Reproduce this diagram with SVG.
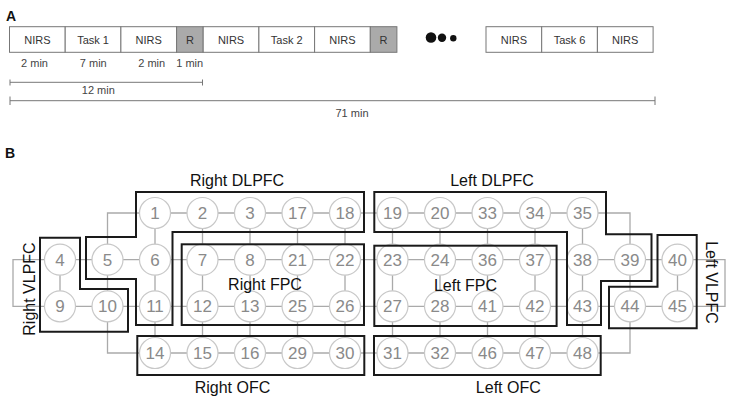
<svg xmlns="http://www.w3.org/2000/svg" width="733" height="403" viewBox="0 0 733 403">
<style>
text{font-family:"Liberation Sans",Arial,sans-serif}
.box{fill:#fff;stroke:#777;stroke-width:1}
.rbox{fill:#aaa;stroke:#777;stroke-width:1}
.bt{font-size:11px;fill:#333;text-anchor:middle}
.mt{font-size:11px;fill:#444;text-anchor:middle}
.bar{stroke:#777;stroke-width:1;fill:none}
.pl{font-size:14px;font-weight:bold;fill:#111}
.cn{stroke:#aaa;stroke-width:1.3;fill:none}
.nd circle{fill:#fff;stroke:#c8c8c8;stroke-width:1.2}
.nd text{font-size:17px;fill:#8a8a8a;text-anchor:middle}
.reg{fill:none;stroke:#1a1a1a;stroke-width:2}
.rl{font-size:16px;fill:#111;text-anchor:middle}
</style>
<rect width="733" height="403" fill="#fff"/>
<g id="panelA">
<text class="pl" x="6" y="21">A</text>
<g id="timeline">
<rect class="box" x="9.5" y="26.7" width="55.7" height="25.6"/><text class="bt" x="37.35" y="43.5">NIRS</text>
<rect class="box" x="65.2" y="26.7" width="55.7" height="25.6"/><text class="bt" x="93.05" y="43.5">Task 1</text>
<rect class="box" x="120.9" y="26.7" width="55.7" height="25.6"/><text class="bt" x="148.75" y="43.5">NIRS</text>
<rect class="rbox" x="176.6" y="26.7" width="26.6" height="25.6"/><text class="bt" x="189.9" y="43.5">R</text>
<rect class="box" x="203.2" y="26.7" width="55.7" height="25.6"/><text class="bt" x="231.05" y="43.5">NIRS</text>
<rect class="box" x="258.9" y="26.7" width="55.7" height="25.6"/><text class="bt" x="286.75" y="43.5">Task 2</text>
<rect class="box" x="314.6" y="26.7" width="55.7" height="25.6"/><text class="bt" x="342.45" y="43.5">NIRS</text>
<rect class="rbox" x="370.3" y="26.7" width="26.6" height="25.6"/><text class="bt" x="383.6" y="43.5">R</text>
<circle cx="431" cy="37.5" r="5.3" fill="#111"/>
<circle cx="442" cy="37.8" r="4.2" fill="#111"/>
<circle cx="453.3" cy="38.2" r="3.2" fill="#111"/>
<rect class="box" x="486" y="26.7" width="55.7" height="25.6"/><text class="bt" x="513.85" y="43.5">NIRS</text>
<rect class="box" x="541.7" y="26.7" width="55.7" height="25.6"/><text class="bt" x="569.55" y="43.5">Task 6</text>
<rect class="box" x="597.4" y="26.7" width="55.7" height="25.6"/><text class="bt" x="625.25" y="43.5">NIRS</text>
</g>
<g id="durations">
<text class="mt" x="34.5" y="66.5">2 min</text>
<text class="mt" x="93.3" y="66.5">7 min</text>
<text class="mt" x="151.7" y="66.5">2 min</text>
<text class="mt" x="189.7" y="66.5">1 min</text>
<path class="bar" d="M10 82.3H202.5M10 79.5V85.5M202.5 79.5V85.5"/>
<text class="mt" x="98.3" y="94">12 min</text>
<path class="bar" d="M10 100.7H655M10 96.5V105M655 96.5V105"/>
<text class="mt" x="352" y="116.5">71 min</text>
</g>
</g>
<g id="panelB">
<text class="pl" x="5" y="157.5">B</text>
<g id="connectors">
<path class="cn" d="M155 213H582.5M60 259.7H677.5M60 306.3H677.5M155 353H582.5"/>
<path class="cn" d="M60 259.7V306.3M107.5 259.7V306.3M155 213V353M202.5 213V353M250 213V353M297.5 213V353M345 213V353M392.5 213V353M440 213V353M487.5 213V353M535 213V353M582.5 213V353M630 259.7V306.3M677.5 259.7V306.3"/>
<path class="cn" d="M155 213H107.5V259.7M582.5 213H630V259.7M60 259.7H13V306.3H60M677.5 259.7H725V306.3H677.5M107.5 306.3V353H155M630 306.3V353H582.5"/>
</g>
<g id="n1" class="nd"><circle cx="155" cy="213" r="15.5"/><text x="155" y="219">1</text></g>
<g id="n2" class="nd"><circle cx="202.5" cy="213" r="15.5"/><text x="202.5" y="219">2</text></g>
<g id="n3" class="nd"><circle cx="250" cy="213" r="15.5"/><text x="250" y="219">3</text></g>
<g id="n17" class="nd"><circle cx="297.5" cy="213" r="15.5"/><text x="297.5" y="219">17</text></g>
<g id="n18" class="nd"><circle cx="345" cy="213" r="15.5"/><text x="345" y="219">18</text></g>
<g id="n19" class="nd"><circle cx="392.5" cy="213" r="15.5"/><text x="392.5" y="219">19</text></g>
<g id="n20" class="nd"><circle cx="440" cy="213" r="15.5"/><text x="440" y="219">20</text></g>
<g id="n33" class="nd"><circle cx="487.5" cy="213" r="15.5"/><text x="487.5" y="219">33</text></g>
<g id="n34" class="nd"><circle cx="535" cy="213" r="15.5"/><text x="535" y="219">34</text></g>
<g id="n35" class="nd"><circle cx="582.5" cy="213" r="15.5"/><text x="582.5" y="219">35</text></g>
<g id="n4" class="nd"><circle cx="60" cy="259.7" r="15.5"/><text x="60" y="265.7">4</text></g>
<g id="n5" class="nd"><circle cx="107.5" cy="259.7" r="15.5"/><text x="107.5" y="265.7">5</text></g>
<g id="n6" class="nd"><circle cx="155" cy="259.7" r="15.5"/><text x="155" y="265.7">6</text></g>
<g id="n7" class="nd"><circle cx="202.5" cy="259.7" r="15.5"/><text x="202.5" y="265.7">7</text></g>
<g id="n8" class="nd"><circle cx="250" cy="259.7" r="15.5"/><text x="250" y="265.7">8</text></g>
<g id="n21" class="nd"><circle cx="297.5" cy="259.7" r="15.5"/><text x="297.5" y="265.7">21</text></g>
<g id="n22" class="nd"><circle cx="345" cy="259.7" r="15.5"/><text x="345" y="265.7">22</text></g>
<g id="n23" class="nd"><circle cx="392.5" cy="259.7" r="15.5"/><text x="392.5" y="265.7">23</text></g>
<g id="n24" class="nd"><circle cx="440" cy="259.7" r="15.5"/><text x="440" y="265.7">24</text></g>
<g id="n36" class="nd"><circle cx="487.5" cy="259.7" r="15.5"/><text x="487.5" y="265.7">36</text></g>
<g id="n37" class="nd"><circle cx="535" cy="259.7" r="15.5"/><text x="535" y="265.7">37</text></g>
<g id="n38" class="nd"><circle cx="582.5" cy="259.7" r="15.5"/><text x="582.5" y="265.7">38</text></g>
<g id="n39" class="nd"><circle cx="630" cy="259.7" r="15.5"/><text x="630" y="265.7">39</text></g>
<g id="n40" class="nd"><circle cx="677.5" cy="259.7" r="15.5"/><text x="677.5" y="265.7">40</text></g>
<g id="n9" class="nd"><circle cx="60" cy="306.3" r="15.5"/><text x="60" y="312.3">9</text></g>
<g id="n10" class="nd"><circle cx="107.5" cy="306.3" r="15.5"/><text x="107.5" y="312.3">10</text></g>
<g id="n11" class="nd"><circle cx="155" cy="306.3" r="15.5"/><text x="155" y="312.3">11</text></g>
<g id="n12" class="nd"><circle cx="202.5" cy="306.3" r="15.5"/><text x="202.5" y="312.3">12</text></g>
<g id="n13" class="nd"><circle cx="250" cy="306.3" r="15.5"/><text x="250" y="312.3">13</text></g>
<g id="n25" class="nd"><circle cx="297.5" cy="306.3" r="15.5"/><text x="297.5" y="312.3">25</text></g>
<g id="n26" class="nd"><circle cx="345" cy="306.3" r="15.5"/><text x="345" y="312.3">26</text></g>
<g id="n27" class="nd"><circle cx="392.5" cy="306.3" r="15.5"/><text x="392.5" y="312.3">27</text></g>
<g id="n28" class="nd"><circle cx="440" cy="306.3" r="15.5"/><text x="440" y="312.3">28</text></g>
<g id="n41" class="nd"><circle cx="487.5" cy="306.3" r="15.5"/><text x="487.5" y="312.3">41</text></g>
<g id="n42" class="nd"><circle cx="535" cy="306.3" r="15.5"/><text x="535" y="312.3">42</text></g>
<g id="n43" class="nd"><circle cx="582.5" cy="306.3" r="15.5"/><text x="582.5" y="312.3">43</text></g>
<g id="n44" class="nd"><circle cx="630" cy="306.3" r="15.5"/><text x="630" y="312.3">44</text></g>
<g id="n45" class="nd"><circle cx="677.5" cy="306.3" r="15.5"/><text x="677.5" y="312.3">45</text></g>
<g id="n14" class="nd"><circle cx="155" cy="353" r="15.5"/><text x="155" y="359">14</text></g>
<g id="n15" class="nd"><circle cx="202.5" cy="353" r="15.5"/><text x="202.5" y="359">15</text></g>
<g id="n16" class="nd"><circle cx="250" cy="353" r="15.5"/><text x="250" y="359">16</text></g>
<g id="n29" class="nd"><circle cx="297.5" cy="353" r="15.5"/><text x="297.5" y="359">29</text></g>
<g id="n30" class="nd"><circle cx="345" cy="353" r="15.5"/><text x="345" y="359">30</text></g>
<g id="n31" class="nd"><circle cx="392.5" cy="353" r="15.5"/><text x="392.5" y="359">31</text></g>
<g id="n32" class="nd"><circle cx="440" cy="353" r="15.5"/><text x="440" y="359">32</text></g>
<g id="n46" class="nd"><circle cx="487.5" cy="353" r="15.5"/><text x="487.5" y="359">46</text></g>
<g id="n47" class="nd"><circle cx="535" cy="353" r="15.5"/><text x="535" y="359">47</text></g>
<g id="n48" class="nd"><circle cx="582.5" cy="353" r="15.5"/><text x="582.5" y="359">48</text></g>
<g id="rightDLPFC"><path class="reg" d="M136 192H364V232H172.5V325H136V279H86V237H136Z"/><text class="rl" x="237" y="186">Right DLPFC</text></g>
<g id="leftDLPFC"><path class="reg" d="M374.3 192H606V234.3H651.5V281H601V325H567V232H374.3Z"/><text class="rl" x="492" y="186">Left DLPFC</text></g>
<g id="rightVLPFC"><path class="reg" d="M40 237.7H80V289H128V331.7H40Z"/><text class="rl" transform="translate(34.5 289) rotate(-90)">Right VLPFC</text></g>
<g id="leftVLPFC"><path class="reg" d="M657.5 235H696.7V328.3H609V286.7H657.5Z"/><text class="rl" transform="translate(705.5 282.5) rotate(90)">Left VLPFC</text></g>
<g id="rightFPC"><rect class="reg" x="181.7" y="244.3" width="182.3" height="80.7"/><text class="rl" x="265" y="290">Right FPC</text></g>
<g id="leftFPC"><rect class="reg" x="374.3" y="245.7" width="182.3" height="80.3"/><text class="rl" x="465.5" y="290.5">Left FPC</text></g>
<g id="rightOFC"><rect class="reg" x="137.3" y="336" width="227" height="39"/><text class="rl" x="232.5" y="393">Right OFC</text></g>
<g id="leftOFC"><rect class="reg" x="374" y="336" width="226.7" height="39"/><text class="rl" x="508.3" y="393">Left OFC</text></g>
</g>
</svg>
